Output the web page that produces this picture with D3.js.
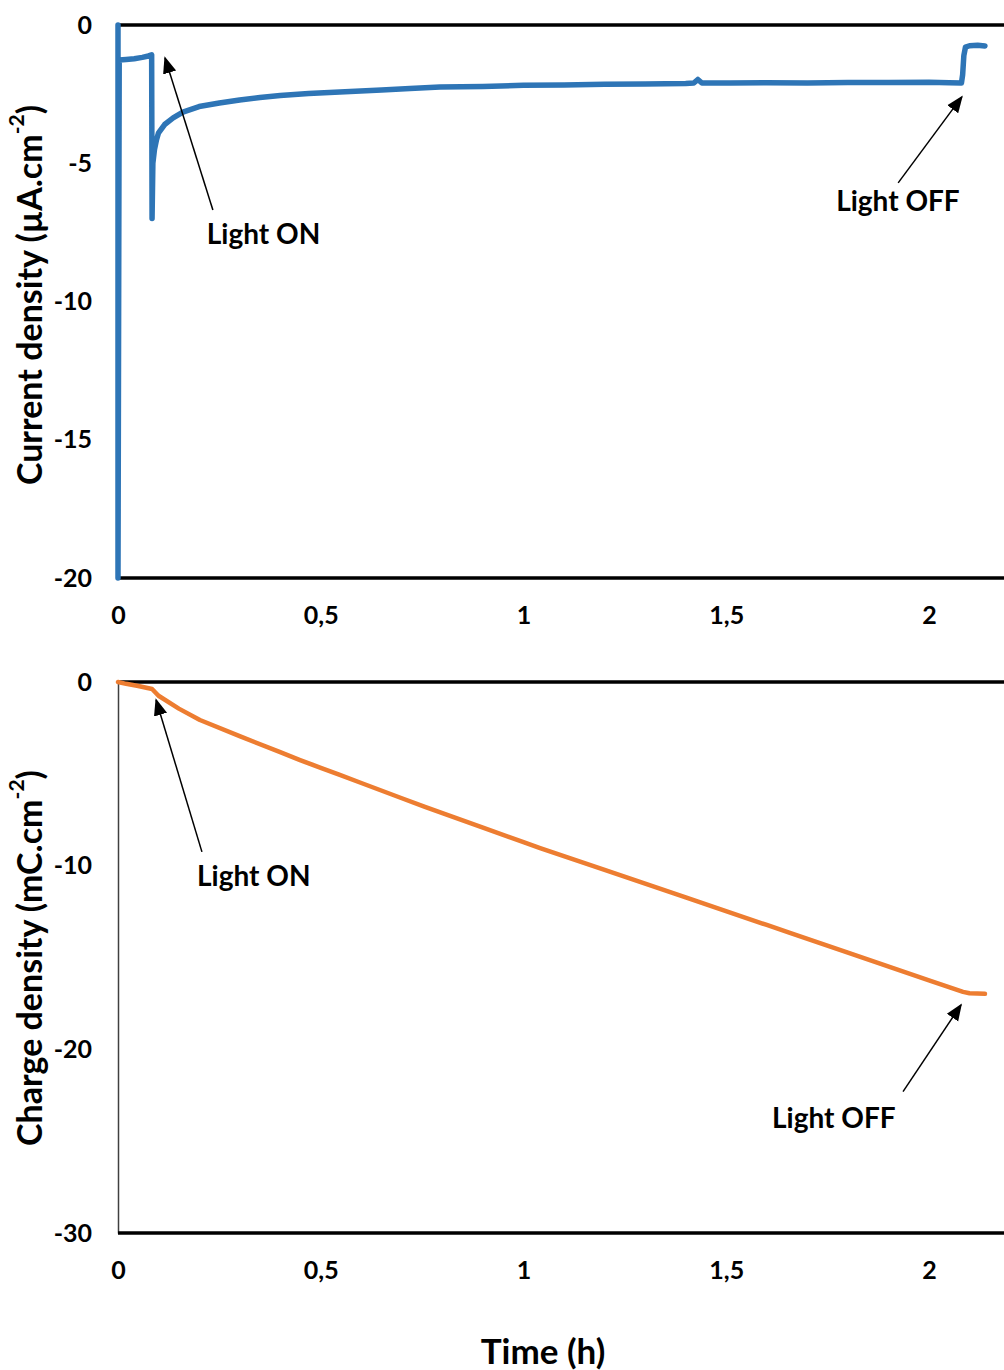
<!DOCTYPE html>
<html>
<head>
<meta charset="utf-8">
<script src="https://d3js.org/d3.v7.min.js"></script>
<style>
  body { margin: 0; background: #fff; }
  svg text { font-family: Lato, "Open Sans", sans-serif; fill: #000; }
</style>
</head>
<body>
<div id="chart"></div>
<script>
// time axis (h), shared by both panels
var xTicks = [0, 0.5, 1, 1.5, 2];

// current density trace (µA.cm-2)
var currentTime = [0, 0, 0.003, 0.02, 0.04, 0.06, 0.075, 0.083, 0.084, 0.086, 0.09, 0.095, 0.1, 0.115, 0.136, 0.16, 0.2, 0.25, 0.3, 0.35,
  0.4, 0.47, 0.547, 0.65, 0.72, 0.794, 0.9, 1.0, 1.1, 1.2, 1.3, 1.4, 1.42, 1.43, 1.44, 1.51, 1.6, 1.7, 1.8, 1.9, 2.0, 2.05,
  2.08, 2.083, 2.086, 2.09, 2.1, 2.12, 2.138];
var currentVals = [0, -20, -1.27, -1.25, -1.22, -1.17, -1.12, -1.08, -7.0, -5.0, -4.5, -4.15, -3.9, -3.6, -3.36, -3.15, -2.95, -2.82, -2.71, -2.62,
  -2.55, -2.48, -2.42, -2.35, -2.3, -2.24, -2.22, -2.18, -2.17, -2.14, -2.13, -2.12, -2.1, -1.97, -2.1, -2.1, -2.09, -2.1, -2.08, -2.08, -2.07, -2.09,
  -2.1, -1.8, -1.1, -0.8, -0.75, -0.73, -0.76];

// charge density trace (mC.cm-2)
var chargeTime = [0, 0.02, 0.05, 0.084, 0.1, 0.15, 0.202, 0.3, 0.4, 0.449, 0.5, 0.547, 0.6, 0.7, 0.757, 0.8, 0.9, 1.0, 1.041,
  1.2, 1.4, 1.6, 1.657, 1.8, 2.0, 2.084, 2.1, 2.138];
var chargeVals = [0, -0.1, -0.22, -0.38, -0.75, -1.45, -2.07, -2.95, -3.82, -4.25, -4.67, -5.06, -5.5, -6.33, -6.8, -7.14, -7.93, -8.72, -9.04,
  -10.23, -11.73, -13.23, -13.66, -14.73, -16.24, -16.87, -16.95, -16.98];

var currentTicks = [0, -5, -10, -15, -20];
var chargeTicks = [0, -10, -20, -30];

var svgWidth = 1004;
var svgHeight = 1370;
var left = 118;

var svg = d3.select("#chart")
  .append("svg")
  .attr("width", svgWidth)
  .attr("height", svgHeight);

svg.append("defs").append("marker")
  .attr("id", "arrow")
  .attr("viewBox", "0 0 10 10")
  .attr("refX", 9)
  .attr("refY", 5)
  .attr("markerUnits", "userSpaceOnUse")
  .attr("markerWidth", 17)
  .attr("markerHeight", 17)
  .attr("orient", "auto")
  .append("path")
  .attr("d", "M0,1 L10,5 L0,9 Z")
  .attr("fill", "#000");

var x = d3.scaleLinear().domain([0, 2.185]).range([left, 1004]);
// comma decimals and a plain hyphen for negatives, like the original
var fmt = function(d) { return String(d).replace(".", ","); };

function panel(cfg) {
  var y = d3.scaleLinear().domain(cfg.domain).range([cfg.bottom, cfg.top]);
  var g = svg.append("g");

  // left axis
  var yAxis = g.append("g")
    .attr("transform", "translate(" + left + ",0)")
    .call(d3.axisLeft(y).tickValues(cfg.ticks).tickFormat(fmt).tickSize(0).tickPadding(26));
  yAxis.select(".domain").attr("stroke", "#404040").attr("stroke-width", 1.5);
  yAxis.selectAll("text").style("font-size", "25px").style("font-weight", 700)
    .style("font-family", "Lato, sans-serif");

  // bottom axis
  var xAxis = g.append("g")
    .attr("transform", "translate(0," + cfg.bottom + ")")
    .call(d3.axisBottom(x).tickValues(xTicks).tickFormat(fmt).tickSize(0).tickPadding(28));
  xAxis.select(".domain").remove();
  xAxis.selectAll("text").style("font-size", "25px").style("font-weight", 700)
    .style("font-family", "Lato, sans-serif");

  // top and bottom frame lines
  [cfg.top, cfg.bottom].forEach(function(yy) {
    g.append("line")
      .attr("x1", left).attr("x2", 1004)
      .attr("y1", yy).attr("y2", yy)
      .attr("stroke", "#000").attr("stroke-width", 3.5);
  });

  var line = d3.line().x(function(d) { return x(d[0]); }).y(function(d) { return y(d[1]); });
  g.append("path")
    .datum(d3.zip(cfg.times, cfg.vals))
    .attr("d", line)
    .attr("fill", "none")
    .attr("stroke", cfg.color)
    .attr("stroke-width", cfg.width)
    .attr("stroke-linejoin", "round")
    .attr("stroke-linecap", "round");

  // y title
  var t = g.append("text")
    .attr("transform", "translate(28," + cfg.titleY + ") rotate(-90)")
    .attr("text-anchor", "middle")
    .attr("dominant-baseline", "central")
    .style("font-size", "34px")
    .style("font-weight", 700);
  t.append("tspan").text(cfg.title);
  t.append("tspan").attr("baseline-shift", "super").style("font-size", "21px").text("-2");
  t.append("tspan").text(")");

  // annotations
  cfg.notes.forEach(function(n) {
    g.append("line")
      .attr("x1", x(n.tail[0])).attr("y1", y(n.tail[1]))
      .attr("x2", x(n.tip[0])).attr("y2", y(n.tip[1]))
      .attr("stroke", "#000").attr("stroke-width", 1.5)
      .attr("marker-end", "url(#arrow)");
    g.append("text")
      .attr("x", x(n.at[0])).attr("y", y(n.at[1]))
      .attr("dominant-baseline", "central")
      .style("font-size", "28px")
      .style("font-weight", 700)
      .text(n.label);
  });
}

panel({
  domain: [-20, 0], top: 25, bottom: 578, ticks: currentTicks,
  times: currentTime, vals: currentVals, color: "#2e75b6", width: 5.5,
  title: "Current density (µA.cm", titleY: 295,
  notes: [
    {label: "Light ON", tail: [0.234, -6.69], tip: [0.116, -1.19], at: [0.219, -7.52]},
    {label: "Light OFF", tail: [1.924, -5.71], tip: [2.081, -2.6], at: [1.771, -6.33]}
  ]
});

panel({
  domain: [-30, 0], top: 682, bottom: 1233, ticks: chargeTicks,
  times: chargeTime, vals: chargeVals, color: "#ed7d31", width: 4.5,
  title: "Charge density (mC.cm", titleY: 958,
  notes: [
    {label: "Light ON", tail: [0.207, -9.25], tip: [0.094, -0.98], at: [0.195, -10.5]},
    {label: "Light OFF", tail: [1.936, -22.3], tip: [2.079, -17.58], at: [1.613, -23.7]}
  ]
});

svg.append("text")
  .attr("x", 543).attr("y", 1350)
  .attr("text-anchor", "middle")
  .attr("dominant-baseline", "central")
  .style("font-size", "35px")
  .style("font-weight", 700)
  .text("Time (h)");
</script>
</body>
</html>
